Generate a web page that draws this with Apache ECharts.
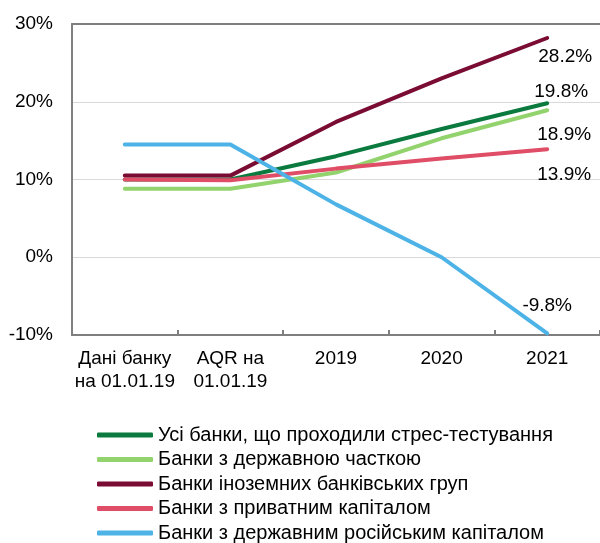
<!DOCTYPE html>
<html><head><meta charset="utf-8">
<script src="https://cdn.jsdelivr.net/npm/echarts@6/dist/echarts.min.js"></script>
<style>html,body{margin:0;padding:0;background:#fff}#c{width:600px;height:543px}</style>
</head><body><div id="c"></div>
<script>
var categories = ['Дані банку\nна 01.01.19', 'AQR на\n01.01.19', '2019', '2020', '2021'];
var seriesNames = ['Усі банки, що проходили стрес-тестування', 'Банки з державною часткою', 'Банки іноземних банківських груп', 'Банки з приватним капіталом', 'Банки з державним російським капіталом'];
var allBanks = [10.0, 10.0, 13.0, 16.5, 19.8];
var stateShare = [8.8, 8.8, 10.9, 15.3, 18.9];
var foreignGroups = [10.5, 10.5, 17.4, 23.0, 28.2];
var privateCap = [10.0, 9.9, 11.4, 12.7, 13.9];
var russianState = [14.5, 14.5, 6.8, 0.0, -9.8];
var yTicks = [-10, 0, 10, 20, 30];
var colors = ['#0b7a3e', '#92d36e', '#7a0b32', '#e04d66', '#4db3e7'];
var labelOffsets = [[14, -12], [17, 24], [18, 19], [17, 26], [0, -28]];
var font = '"Liberation Sans", Arial, sans-serif';
var dataList = [allBanks, stateShare, foreignGroups, privateCap, russianState];

var chart = echarts.init(document.getElementById('c'));
var series = dataList.map(function (d, i) {
  return {
    name: seriesNames[i], type: 'line', data: d,
    symbol: 'circle', symbolSize: 0.1, showSymbol: true,
    lineStyle: { width: 4, color: colors[i], cap: 'round' },
    itemStyle: { color: colors[i] },
    label: {
      show: true,
      formatter: function (p) { return p.dataIndex === 4 ? p.value.toFixed(1) + '%' : ''; },
      position: 'inside', offset: labelOffsets[i],
      color: '#000', fontSize: 19, fontFamily: font
    },
    z: 2 + i
  };
});
chart.setOption({
  animation: false,
  grid: { left: 72, right: -1, top: 24, bottom: 208 },
  legend: {
    orient: 'vertical', left: 92, top: 420, height: 200, itemWidth: 56, itemHeight: 5, itemGap: 4.5,
    icon: 'roundRect',
    textStyle: { color: '#000', fontSize: 20, fontFamily: font },
    data: seriesNames
  },
  xAxis: [{
    type: 'category', data: categories, boundaryGap: true,
    axisLine: { onZero: false, lineStyle: { color: '#7f7f7f', width: 2 } },
    axisTick: { show: true, inside: true, length: 5, interval: 0, lineStyle: { color: '#7f7f7f', width: 2 } },
    axisLabel: { color: '#000', fontSize: 19, fontFamily: font, lineHeight: 23, margin: 12, interval: 0 }
  }, {
    type: 'category', data: categories, position: 'top',
    axisLine: { onZero: false, lineStyle: { color: '#7f7f7f', width: 2 } },
    axisTick: { show: false }, axisLabel: { show: false }
  }],
  yAxis: {
    type: 'value', min: yTicks[0], max: yTicks[yTicks.length - 1], interval: 10,
    axisLine: { show: true, lineStyle: { color: '#7f7f7f', width: 2 } },
    axisTick: { show: false },
    splitLine: { lineStyle: { color: '#d9d9d9', width: 1 } },
    axisLabel: { color: '#000', fontSize: 19, fontFamily: font, margin: 19, formatter: '{value}%' }
  },
  series: series
});
</script></body></html>
